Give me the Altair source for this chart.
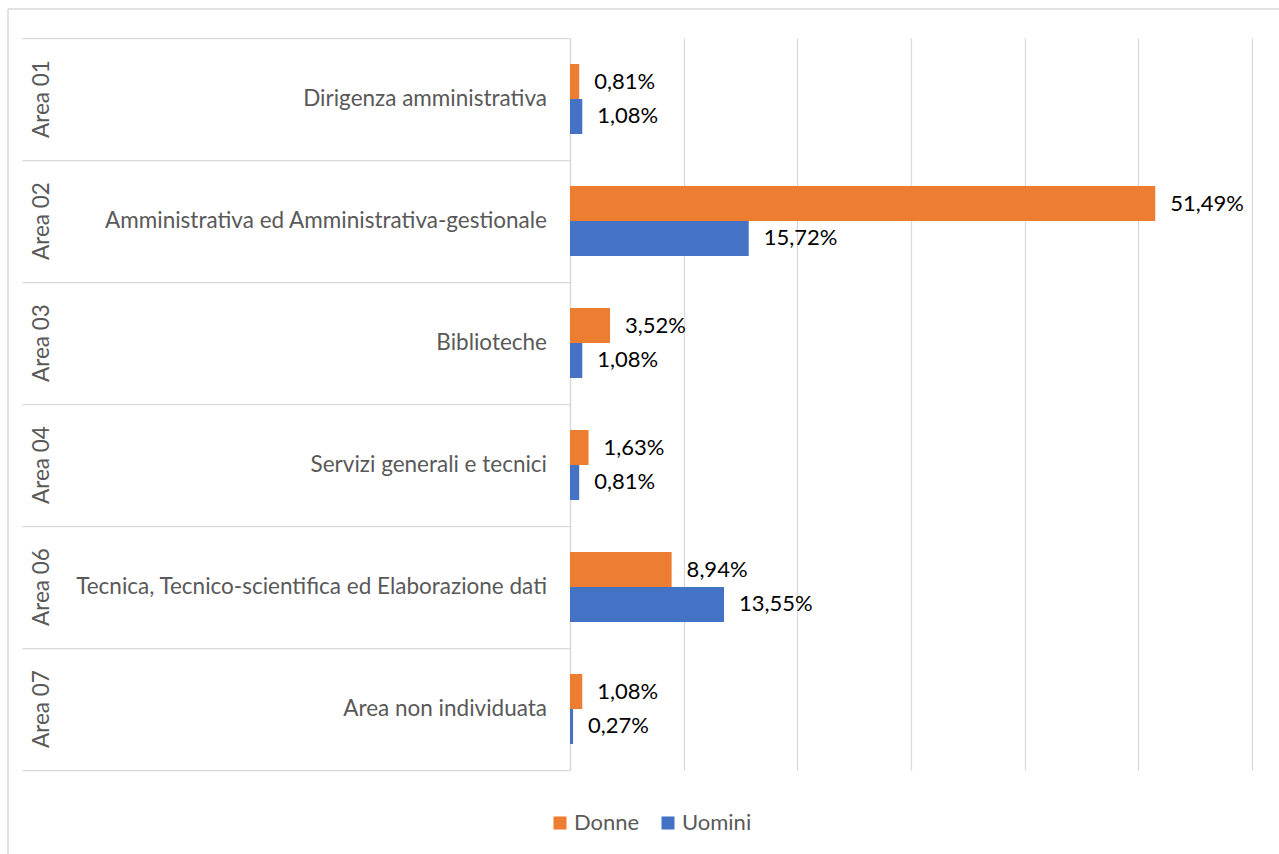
import altair as alt
import pandas as pd

areas = ["Area 01", "Area 02", "Area 03", "Area 04", "Area 06", "Area 07"]
sottoaree = [
    "Dirigenza amministrativa",
    "Amministrativa ed Amministrativa-gestionale",
    "Biblioteche",
    "Servizi generali e tecnici",
    "Tecnica, Tecnico-scientifica ed Elaborazione dati",
    "Area non individuata",
]
donne = [0.81, 51.49, 3.52, 1.63, 8.94, 1.08]
uomini = [1.08, 15.72, 1.08, 0.81, 13.55, 0.27]
serie = ["Donne", "Uomini"]
colori = ["#ED7D31", "#4472C4"]
griglia = [0, 10, 20, 30, 40, 50, 60]

long = pd.DataFrame({
    "area": areas * 2,
    "serie": ["Donne"] * len(areas) + ["Uomini"] * len(areas),
    "valore": donne + uomini,
})
long["etichetta"] = long["valore"].map(lambda v: f"{v:.2f}".replace(".", ",") + "%")
cats = pd.DataFrame({"area": areas, "sotto": sottoaree})

W, H = 682, 732
FONT = "Lato"
GRID = "#D9D9D9"
GREY = "#595959"

yenc = alt.Y(
    "area:N", sort=areas,
    scale=alt.Scale(paddingInner=0, paddingOuter=0),
    axis=alt.Axis(labels=False, title=None, ticks=True, tickSize=548, tickColor=GRID,
                  tickWidth=1.25, bandPosition=1, tickExtra=True, domain=True,
                  domainColor=GRID, domainWidth=1.25, grid=False),
)
yoff = alt.YOffset("serie:N", sort=serie, scale=alt.Scale(paddingInner=0, paddingOuter=0.743))
xenc = alt.X(
    "valore:Q", scale=alt.Scale(domain=[0, 60], nice=False),
    axis=alt.Axis(values=griglia, grid=True, gridColor=GRID, gridWidth=1.25, labels=False,
                  ticks=False, domain=False, title=None),
)

bars = alt.Chart(long).mark_bar().encode(
    x=xenc, y=yenc, yOffset=yoff,
    color=alt.Color(
        "serie:N", sort=serie, scale=alt.Scale(domain=serie, range=colori),
        legend=alt.Legend(orient="none", legendX=-21, legendY=774, direction="horizontal",
                          title=None, symbolType="square", symbolSize=170, symbolStrokeWidth=0,
                          labelFont=FONT, labelFontSize=22, labelColor=GREY,
                          columnPadding=17, labelOffset=3),
    ),
)

values = alt.Chart(long).mark_text(align="left", baseline="middle", dx=15, font=FONT,
                                   fontSize=22, color="black").encode(
    x=xenc, y=yenc, yOffset=yoff, text="etichetta:N"
)

sub_labels = alt.Chart(cats).mark_text(align="right", baseline="middle", font=FONT,
                                       fontSize=22.5, color=GREY).encode(
    y=yenc, x=alt.value(-23), text="sotto:N"
)

area_labels = alt.Chart(cats).mark_text(angle=270, align="center", baseline="middle", font=FONT,
                                        fontSize=22.5, color=GREY).encode(
    y=yenc, x=alt.value(-528), text="area:N"
)

frame_df = pd.DataFrame({"k": [0]})
top_line = alt.Chart(frame_df).mark_rule(color=GRID, strokeWidth=1.5).encode(
    x=alt.value(-562), x2=alt.value(W + 30), y=alt.value(-29)
)
left_line = alt.Chart(frame_df).mark_rule(color=GRID, strokeWidth=1.5).encode(
    x=alt.value(-562), y=alt.value(-29), y2=alt.value(H + 90)
)

chart = alt.layer(top_line, left_line, bars, values, sub_labels, area_labels).properties(
    width=W, height=H,
    padding={"left": 570, "top": 38, "right": 27, "bottom": 84},
    autosize=alt.AutoSizeParams(type="none"),
).configure_view(stroke=None)

chart.save("out.html", embed_options={"renderer": "svg", "actions": False})
